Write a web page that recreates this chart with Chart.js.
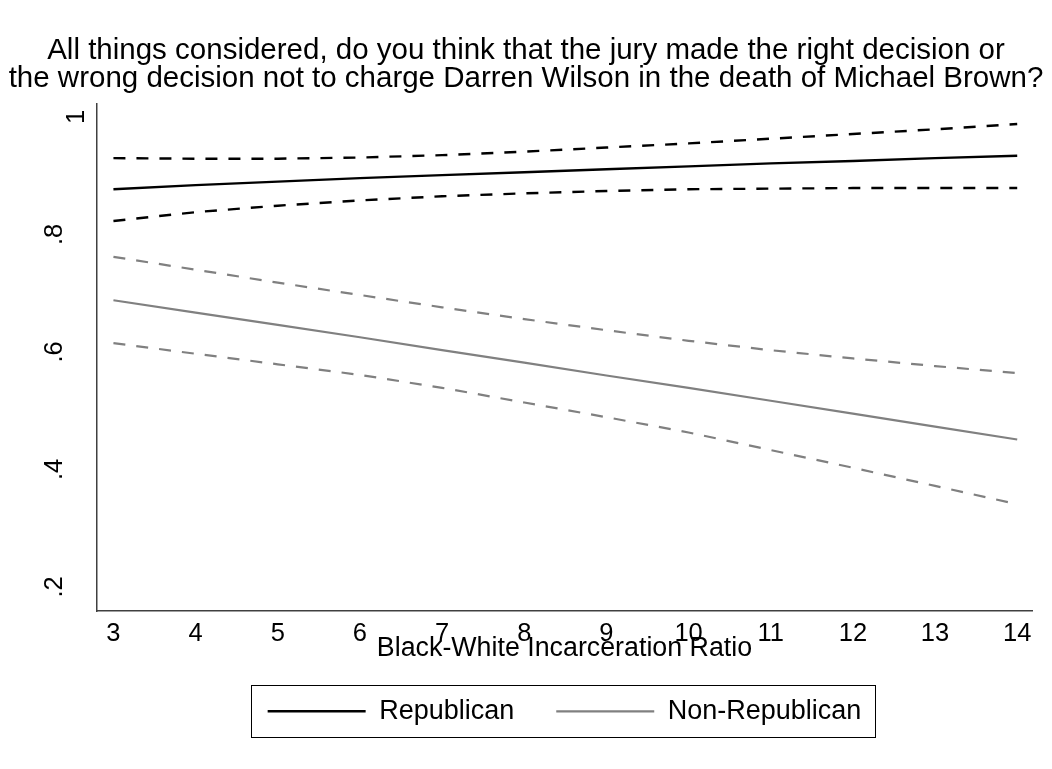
<!DOCTYPE html>
<html>
<head>
<meta charset="utf-8">
<script src="https://cdn.jsdelivr.net/npm/chart.js@4.4.1/dist/chart.umd.min.js"></script>
<style>
html,body{margin:0;padding:0;background:#fff;}
canvas{display:block;}
</style>
</head>
<body>
<canvas id="c" width="1052" height="769"></canvas>
<script>
// ---- data ----
const titleLines = [
  'All things considered, do you think that the jury made the right decision or',
  'the wrong decision not to charge Darren Wilson in the death of Michael Brown?'
];
const xAxisTitle = 'Black-White Incarceration Ratio';
const seriesNames = ['Republican', 'Non-Republican'];
const xValues = [3, 4, 5, 6, 7, 8, 9, 10, 11, 12, 13, 14];
const repMean  = [0.877, 0.884, 0.890, 0.896, 0.901, 0.906, 0.911, 0.916, 0.921, 0.925, 0.930, 0.934];
const repUpper = [0.930, 0.929, 0.929, 0.931, 0.935, 0.941, 0.948, 0.955, 0.963, 0.971, 0.979, 0.988];
const repLower = [0.823, 0.838, 0.849, 0.858, 0.865, 0.870, 0.874, 0.877, 0.878, 0.879, 0.879, 0.879];
const nonMean  = [0.688, 0.667, 0.646, 0.625, 0.603, 0.582, 0.560, 0.539, 0.517, 0.495, 0.473, 0.451];
const nonUpper = [0.762, 0.740, 0.718, 0.697, 0.676, 0.656, 0.637, 0.619, 0.603, 0.589, 0.576, 0.564];
const nonLower = [0.615, 0.597, 0.579, 0.561, 0.539, 0.514, 0.489, 0.463, 0.433, 0.403, 0.372, 0.341];
const xTicks = [3, 4, 5, 6, 7, 8, 9, 10, 11, 12, 13, 14];
const xTickLabels = ['3', '4', '5', '6', '7', '8', '9', '10', '11', '12', '13', '14'];
const yTicks = [0.2, 0.4, 0.6, 0.8, 1];
const yTickLabels = ['.2', '.4', '.6', '.8', '1'];

// ---- styling ----
const FONT = "'Liberation Sans', Arial, Helvetica, sans-serif";
const BLACK = '#000000';
const GRAY = '#808080';
const DASH = [12, 11];

const toPts = ys => xValues.map((x, i) => ({ x: x, y: ys[i] }));
function makeSet(label, ys, color, dashed, width) {
  return {
    label: label,
    data: toPts(ys),
    borderColor: color,
    backgroundColor: color,
    borderWidth: width,
    borderDash: dashed ? DASH : [],
    pointRadius: 0,
    pointHoverRadius: 0,
    tension: 0,
    fill: false,
    xAxisID: 'x',
    yAxisID: 'y'
  };
}

const datasets = [
  makeSet(seriesNames[0], repMean, BLACK, false, 2.4),
  makeSet(seriesNames[0] + ' upper CI', repUpper, BLACK, true, 2.4),
  makeSet(seriesNames[0] + ' lower CI', repLower, BLACK, true, 2.4),
  makeSet(seriesNames[1], nonMean, GRAY, false, 2.2),
  makeSet(seriesNames[1] + ' upper CI', nonUpper, GRAY, true, 2.2),
  makeSet(seriesNames[1] + ' lower CI', nonLower, GRAY, true, 2.2)
];

const legendBorder = {
  id: 'legendBorder',
  afterDraw(chart) {
    const hb = chart.legend && chart.legend.legendHitBoxes;
    if (!hb || !hb.length) return;
    const first = hb[0], last = hb[hb.length - 1];
    const cy = first.top + first.height / 2;
    const l = Math.round(first.left - 17) + 0.5;
    const r = Math.round(last.left + last.width + 14) + 0.5;
    const t = Math.round(cy - 26) + 0.5;
    const ctx = chart.ctx;
    ctx.save();
    ctx.strokeStyle = '#000';
    ctx.lineWidth = 1;
    ctx.setLineDash([]);
    ctx.strokeRect(l, t, r - l, 52);
    ctx.restore();
  }
};

new Chart(document.getElementById('c'), {
  type: 'line',
  data: { datasets: datasets },
  plugins: [legendBorder],
  options: {
    responsive: false,
    animation: false,
    devicePixelRatio: 1,
    layout: { padding: { top: 0, left: 0, right: 0, bottom: 34.2 } },
    plugins: {
      tooltip: { enabled: false },
      title: {
        display: true,
        text: titleLines,
        color: '#000',
        font: { family: FONT, size: 29.5, weight: 'normal', lineHeight: 0.95 },
        padding: { top: 36.8, bottom: 11.2 }
      },
      legend: {
        display: true,
        position: 'bottom',
        fullSize: false,
        align: 'center',
        labels: {
          color: '#000',
          font: { family: FONT, size: 27 },
          boxWidth: 98,
          boxHeight: 0,
          padding: 42,
          filter: item => seriesNames.includes(item.text)
        }
      }
    },
    scales: {
      x: {
        type: 'linear',
        position: 'bottom',
        min: 2.8,
        max: 14.18,
        afterBuildTicks: s => { s.ticks = xTicks.map(v => ({ value: v })); },
        afterFit: s => { s.height = 44.8; },
        grid: { display: false, drawTicks: false },
        border: { display: true, color: '#404040', width: 1.5 },
        ticks: {
          color: '#000',
          font: { family: FONT, size: 25.5, lineHeight: 1.2 },
          padding: 7.5,
          minRotation: 0,
          maxRotation: 0,
          autoSkip: false,
          callback: (v, i) => xTickLabels[i]
        },
        title: {
          display: true,
          text: xAxisTitle,
          color: '#000',
          font: { family: FONT, size: 26.8, lineHeight: 1 },
          padding: { top: 0, bottom: -6.6 }
        }
      },
      y: {
        type: 'linear',
        position: 'left',
        min: 0.1591,
        max: 1.022,
        afterBuildTicks: s => { s.ticks = yTicks.map(v => ({ value: v })); },
        afterFit: s => { s.width = 97; },
        grid: { display: false, drawTicks: false },
        border: { display: true, color: '#404040', width: 1.5 },
        ticks: {
          color: '#000',
          font: { family: FONT, size: 25.5, lineHeight: 0.88 },
          padding: 31.4,
          minRotation: 90,
          maxRotation: 90,
          crossAlign: 'center',
          autoSkip: false,
          callback: (v, i) => yTickLabels[i] === '1' ? ['', '', yTickLabels[i]] : yTickLabels[i]
        }
      },
      yR: {
        type: 'linear',
        position: 'right',
        display: true,
        min: 0,
        max: 1,
        afterFit: s => { s.width = 20; },
        grid: { display: false, drawTicks: false },
        border: { display: false },
        ticks: { display: false }
      }
    }
  }
});
</script>
</body>
</html>
